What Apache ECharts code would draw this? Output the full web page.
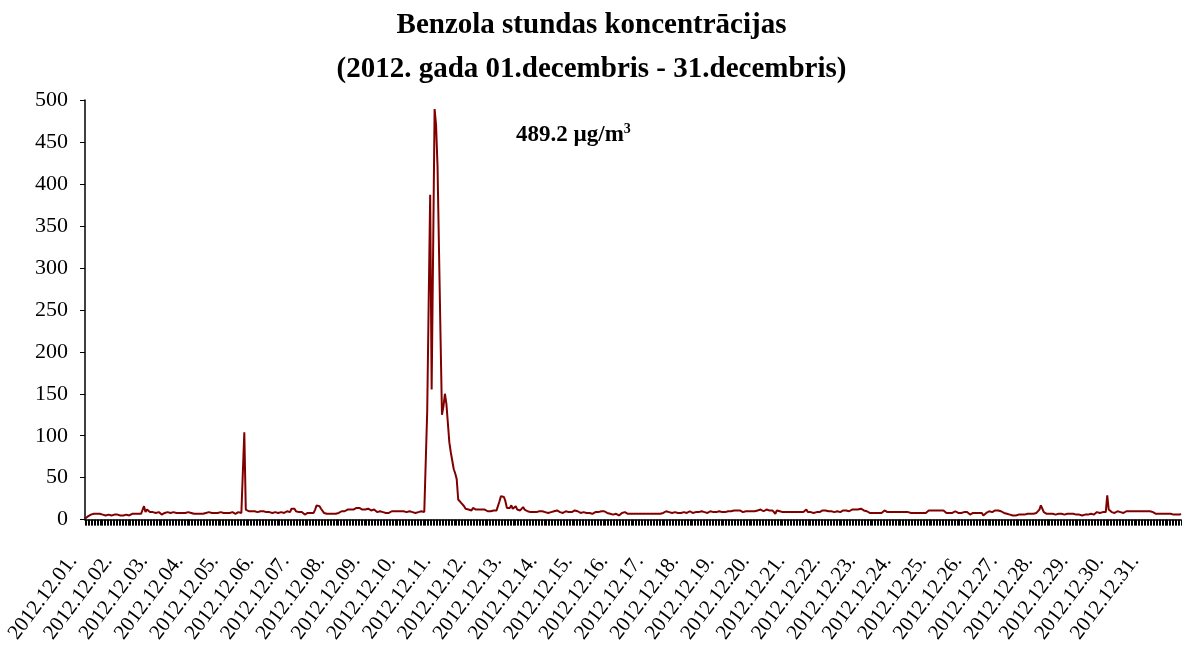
<!DOCTYPE html>
<html>
<head>
<meta charset="utf-8">
<style>
  html, body { margin: 0; padding: 0; background: #fff; }
  #chart { width: 1183px; height: 646px; }
</style>
<script src="https://cdn.jsdelivr.net/npm/echarts@6/dist/echarts.min.js"></script>
</head>
<body>
<div id="chart"></div>
<script>
// dienas (x ass etiķetes)
const days = [
  "2012.12.01.", "2012.12.02.", "2012.12.03.", "2012.12.04.", "2012.12.05.",
  "2012.12.06.", "2012.12.07.", "2012.12.08.", "2012.12.09.", "2012.12.10.",
  "2012.12.11.", "2012.12.12.", "2012.12.13.", "2012.12.14.", "2012.12.15.",
  "2012.12.16.", "2012.12.17.", "2012.12.18.", "2012.12.19.", "2012.12.20.",
  "2012.12.21.", "2012.12.22.", "2012.12.23.", "2012.12.24.", "2012.12.25.",
  "2012.12.26.", "2012.12.27.", "2012.12.28.", "2012.12.29.", "2012.12.30.",
  "2012.12.31."
];

const yTicks = [0, 50, 100, 150, 200, 250, 300, 350, 400, 450, 500];

// stundas vērtības, µg/m3 (pa dienām, 24 vērtības katrā)
const d01 = [1, 2, 4, 5, 6, 6, 7, 7, 7, 7, 7, 7, 6, 6, 5, 5, 6, 6, 5, 7, 6, 5, 6, 5];
const d02 = [5, 6, 5, 6, 6, 5, 5, 6, 7, 7, 7, 7, 7, 7, 7, 8, 16, 9, 12, 14, 9, 8, 9, 7];
const d03 = [8, 7, 9, 8, 6, 7, 8, 9, 9, 8, 8, 7, 9, 9, 8, 8, 8, 8, 8, 8, 8, 8, 9, 8];
const d04 = [8, 8, 7, 7, 7, 7, 7, 7, 7, 7, 8, 9, 9, 9, 8, 8, 8, 7, 8, 9, 9, 8, 8, 8];
const d05 = [8, 8, 8, 9, 9, 8, 7, 8, 9, 9, 8, 9, 104, 12, 11, 10, 10, 10, 10, 10, 10, 9, 9, 10];
const d06 = [10, 10, 10, 9, 9, 9, 8, 8, 9, 9, 7, 8, 9, 9, 9, 8, 9, 10, 9, 9, 13, 14, 13, 10];
const d07 = [11, 9, 10, 9, 7, 6, 8, 8, 9, 8, 8, 8, 12, 17, 18, 16, 13, 12, 8, 6, 7, 7, 7, 7];
const d08 = [7, 7, 7, 7, 8, 9, 10, 9, 10, 11, 12, 11, 12, 13, 12, 14, 14, 15, 14, 13, 12, 13, 12, 11];
const d09 = [13, 12, 11, 10, 12, 10, 9, 11, 10, 9, 9, 9, 8, 7, 8, 10, 10, 10, 10, 10, 10, 10, 10, 10];
const d10 = [10, 10, 9, 8, 10, 9, 9, 8, 8, 10, 9, 9, 10, 9, 9, 8, 130, 260, 387, 155, 320, 489.2, 470, 420];
const d11 = [320, 220, 125, 135, 150, 138, 140, 92, 80, 78, 60, 55, 48, 24, 22, 20, 18, 16, 13, 15, 12, 14, 11, 14];
const d12 = [13, 12, 13, 12, 11, 12, 13, 12, 11, 10, 11, 10, 10, 11, 12, 11, 12, 22, 28, 28, 27, 22, 14, 13];
const d13 = [14, 17, 13, 15, 16, 12, 14, 11, 13, 15, 12, 11, 10, 9, 9, 9, 9, 9, 9, 9, 10, 11, 10, 10];
const d14 = [9, 9, 8, 8, 9, 9, 10, 10, 11, 10, 9, 8, 8, 9, 10, 11, 9, 8, 9, 10, 11, 13, 10, 9];
const d15 = [8, 8, 9, 7, 8, 9, 8, 7, 7, 8, 9, 8, 9, 8, 10, 11, 10, 9, 8, 8, 7, 8, 6, 8];
const d16 = [7, 8, 5, 7, 8, 8, 9, 8, 7, 7, 7, 7, 7, 7, 7, 7, 7, 7, 7, 7, 7, 7, 7, 7];
const d17 = [7, 7, 7, 7, 7, 7, 7, 7, 8, 10, 10, 8, 9, 10, 8, 7, 9, 10, 8, 9, 8, 7, 9, 9];
const d18 = [8, 9, 10, 9, 8, 9, 9, 10, 9, 8, 10, 9, 9, 10, 8, 9, 10, 9, 9, 8, 9, 9, 10, 9];
const d19 = [9, 10, 9, 10, 10, 11, 10, 11, 11, 10, 11, 10, 11, 10, 9, 11, 10, 11, 10, 12, 10, 11, 10, 11];
const d20 = [11, 10, 12, 11, 10, 11, 12, 10, 11, 12, 11, 10, 7, 11, 12, 10, 11, 9, 9, 9, 9, 9, 9, 9];
const d21 = [9, 9, 9, 9, 9, 9, 8, 9, 10, 12, 9, 9, 9, 8, 8, 9, 9, 9, 9, 11, 11, 10, 11, 9];
const d22 = [10, 11, 10, 11, 9, 11, 10, 11, 9, 10, 11, 10, 11, 10, 10, 11, 12, 11, 12, 11, 12, 12, 13, 12];
const d23 = [11, 10, 10, 9, 8, 7, 8, 8, 8, 8, 8, 8, 8, 9, 11, 9, 9, 9, 9, 9, 9, 9, 9, 9];
const d24 = [9, 9, 9, 9, 9, 9, 9, 7, 8, 9, 8, 8, 8, 8, 8, 8, 8, 8, 8, 10, 11, 10, 11, 10];
const d25 = [11, 10, 11, 10, 11, 10, 11, 9, 8, 8, 8, 8, 8, 9, 10, 8, 8, 7, 8, 8, 9, 10, 9, 8];
const d26 = [6, 8, 8, 8, 8, 8, 8, 8, 8, 5, 7, 8, 9, 10, 10, 9, 11, 11, 11, 11, 11, 10, 9, 8];
const d27 = [8, 7, 6, 6, 5, 5, 4, 5, 6, 6, 6, 6, 6, 6, 7, 7, 8, 7, 8, 7, 6, 8, 9, 12];
const d28 = [17, 13, 9, 8, 7, 8, 7, 6, 7, 8, 6, 7, 7, 8, 7, 6, 6, 7, 7, 8, 7, 6, 7, 6];
const d29 = [6, 7, 6, 6, 5, 7, 6, 7, 6, 5, 7, 6, 6, 7, 9, 10, 8, 9, 9, 10, 9, 29, 12, 10];
const d30 = [9, 10, 8, 9, 10, 8, 9, 10, 8, 9, 10, 9, 10, 10, 10, 10, 10, 10, 10, 10, 10, 10, 10, 10];
const d31 = [10, 10, 10, 10, 9, 8, 7, 7, 7, 7, 7, 7, 7, 5, 7, 6, 7, 7, 6, 7, 6, 7, 6, 7];

const hourly = [d01, d02, d03, d04, d05, d06, d07, d08, d09, d10, d11, d12, d13, d14, d15,
  d16, d17, d18, d19, d20, d21, d22, d23, d24, d25, d26, d27, d28, d29, d30, d31];

// kategorijas: viena katrai stundai
const categories = [];
const values = [];
hourly.forEach((arr, d) => {
  arr.forEach((v, h) => {
    categories.push(h === 0 ? days[d] : days[d] + " " + h + ":00");
    values.push(v);
  });
});

const serif = "'Liberation Serif', 'Times New Roman', serif";

const chart = echarts.init(document.getElementById("chart"));
chart.setOption({
  animation: false,
  backgroundColor: "#ffffff",
  title: [
    {
      text: "Benzola stundas koncentrācijas\n(2012. gada 01.decembris - 31.decembris)",
      left: "center",
      top: -1,
      textStyle: {
        fontFamily: serif,
        fontSize: 29,
        fontWeight: "bold",
        color: "#000",
        lineHeight: 44,
      },
    },
    {
      text: "{a|489.2 µg/m}{s|3}",
      left: 511,
      top: 117,
      textStyle: {
        rich: {
          a: { fontFamily: serif, fontSize: 23, fontWeight: "bold", color: "#000" },
          s: { fontFamily: serif, fontSize: 14, fontWeight: "bold", color: "#000", verticalAlign: "top", padding: [0, 0, 12, 0] },
        },
      },
    },
  ],
  grid: {
    left: 85,
    right: 2,
    top: 100,
    bottom: 126,
    containLabel: false,
  },
  xAxis: {
    type: "category",
    data: categories,
    boundaryGap: false,
    axisLine: { lineStyle: { color: "#000", width: 1.5 } },
    axisTick: { interval: 0, length: 6, lineStyle: { color: "#000", width: 1 } },
    axisLabel: {
      interval: 23,
      rotate: 53,
      margin: 22,
      padding: [0, 20, 0, 0],
      fontFamily: serif,
      fontSize: 21,
      color: "#000",
      formatter: (v) => v.split(" ")[0],
    },
    splitLine: { show: false },
  },
  yAxis: {
    type: "value",
    min: yTicks[0],
    max: yTicks[yTicks.length - 1],
    interval: 50,
    axisLine: { show: true, lineStyle: { color: "#000", width: 1.5 } },
    axisTick: { show: true, length: 5, lineStyle: { color: "#000" } },
    axisLabel: {
      margin: 17,
      fontFamily: serif,
      fontSize: 22,
      color: "#000",
    },
    splitLine: { show: false },
  },
  series: [
    {
      name: "Benzols",
      type: "line",
      data: values,
      showSymbol: false,
      symbol: "none",
      lineStyle: { color: "#800000", width: 2 },
    },
  ],
});
</script>
</body>
</html>
